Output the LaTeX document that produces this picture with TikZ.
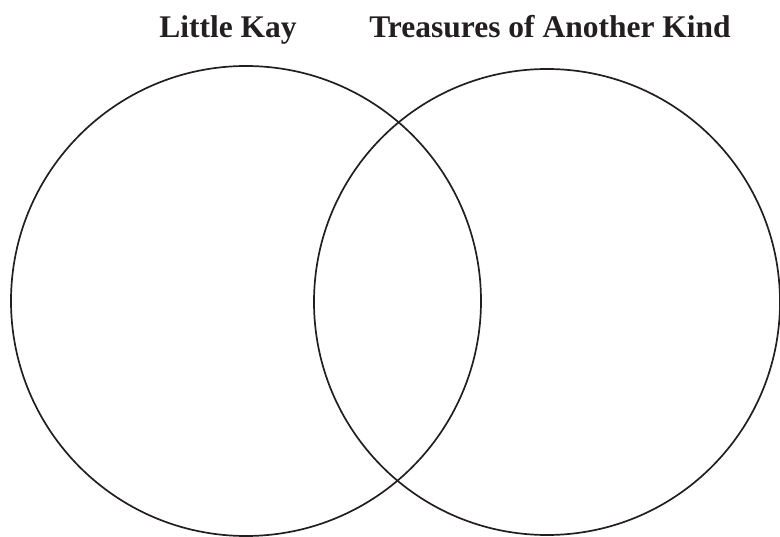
\documentclass[tikz,border=0pt]{standalone}
\usepackage{fontspec}
\setmainfont{Liberation Serif}
\definecolor{ink}{HTML}{231F20}
\begin{document}
\begin{tikzpicture}[x=1pt,y=-1pt,
  venn/.style={draw=ink,line width=1.7pt},
  title/.style={anchor=base,text=ink,inner sep=0pt,font=\fontsize{31.5}{36}\selectfont\bfseries}]
\useasboundingbox (0,0) rectangle (780,537);
\node[venn,circle,minimum size=470pt,inner sep=0pt] (left) at (246,301) {};
\node[venn,circle,minimum size=466pt,inner sep=0pt] (right) at (547,302) {};
\node[title] (lk) at (228,38) {Little Kay};
\node[title] (tk) at (550,38) {Treasures of Another Kind};
\end{tikzpicture}
\end{document}
